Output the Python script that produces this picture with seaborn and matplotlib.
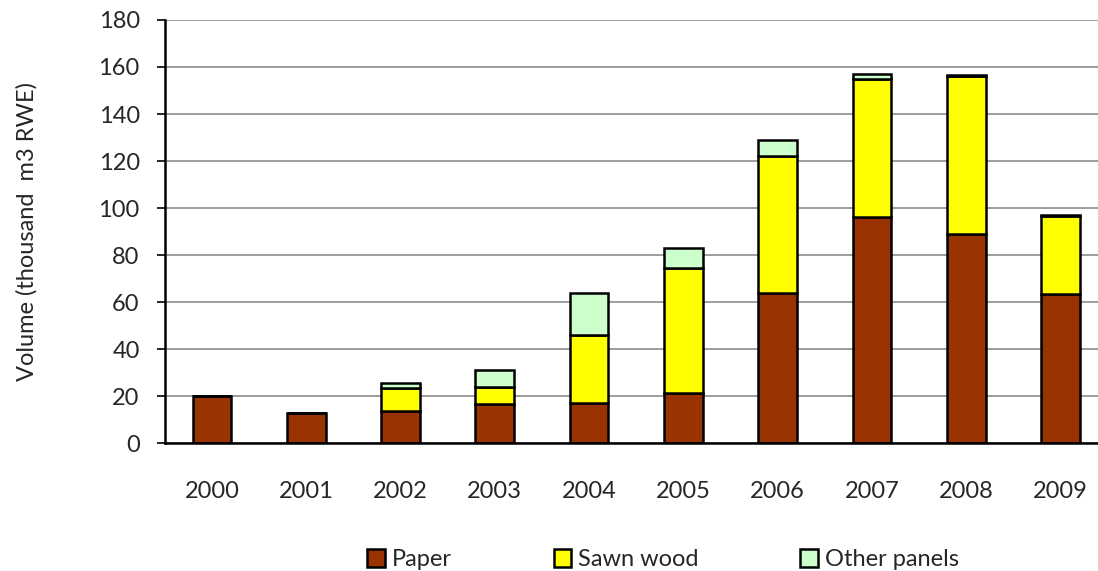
import numpy as np
import pandas as pd
import matplotlib
matplotlib.use("Agg")
import matplotlib.pyplot as plt
from matplotlib.patches import Patch
from matplotlib.ticker import FixedLocator
import seaborn as sns

# Datos (miles de m3 RWE)
anios = ["2000", "2001", "2002", "2003", "2004", "2005", "2006", "2007", "2008", "2009"]
papel = [20, 13, 13.5, 16.5, 17, 21.5, 64, 96, 89, 63.5]
madera = [0, 0, 10, 7.5, 29, 53, 58, 59, 67, 33]
paneles = [0, 0, 2, 7, 18, 8.5, 7, 2, 0.7, 0.7]

series = ["Paper", "Sawn wood", "Other panels"]
colores = ["#993300", "#FFFF00", "#CCFFCC"]
y_ticks = [0, 20, 40, 60, 80, 100, 120, 140, 160, 180]

sns.set_style("white")
plt.rcParams["font.family"] = ["Lato", "DejaVu Sans"]

fig = plt.figure(figsize=(10.98, 5.71), dpi=100)
ax = fig.add_axes([0.150, 0.224, 0.859, 0.741])

base = np.zeros(len(anios))
for nombre, valores, color in zip(series, [papel, madera, paneles], colores):
    df = pd.DataFrame({"anio": anios, "valor": valores})
    sns.barplot(
        data=df, x="anio", y="valor", order=anios,
        color=color, saturation=1, errorbar=None, width=0.41,
        bottom=base.copy(), edgecolor="black", linewidth=1.8, ax=ax,
    )
    base = base + np.array(valores)

ax.set_xlim(-0.5, len(anios) - 0.5)
ax.set_ylim(0, 180)
ax.set_yticks(y_ticks)
ax.yaxis.grid(True, color="#8c8c8c", linewidth=1.2)
ax.set_axisbelow(True)

for s in ["top", "right"]:
    ax.spines[s].set_visible(False)
for s in ["left", "bottom"]:
    ax.spines[s].set_color("black")
    ax.spines[s].set_linewidth(1.8)

ax.xaxis.set_minor_locator(FixedLocator(np.arange(-0.5, len(anios), 1.0)))
ax.tick_params(axis="x", which="major", length=0, pad=27, labelsize=17)
ax.tick_params(axis="x", which="minor", length=7, width=1.2, color="black", direction="out")
ax.tick_params(axis="y", length=6, width=1.2, color="black", direction="out",
               labelsize=17, left=True, pad=12)

ax.set_xlabel("")
ax.set_ylabel("Volume (thousand  m3 RWE)", fontsize=17, labelpad=44)

handles = [Patch(facecolor=c, edgecolor="black", linewidth=1.8) for c in colores]
fig.legend(
    handles, series, loc="lower center", bbox_to_anchor=(0.604, -0.036), ncol=3,
    frameon=False, fontsize=17, handlelength=0.75, handleheight=0.75,
    handletextpad=0.3, columnspacing=4.3,
)

fig.savefig("out.png", dpi=100)
